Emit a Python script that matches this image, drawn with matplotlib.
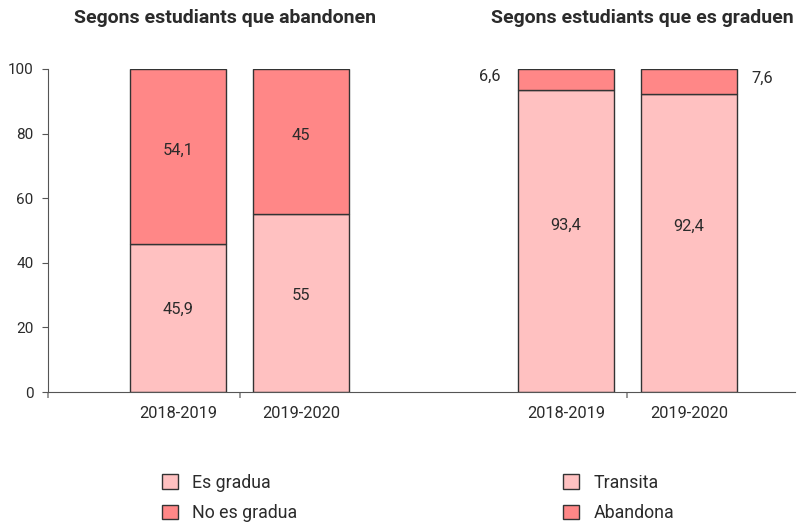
import matplotlib
matplotlib.use("Agg")
import matplotlib.pyplot as plt
from matplotlib.patches import Patch

plt.rcParams['font.family'] = ['Roboto', 'DejaVu Sans']

cursos = ["2018-2019", "2019-2020"]
es_gradua = [45.9, 55]
no_es_gradua = [54.1, 45]
transita = [93.4, 92.4]
abandona = [6.6, 7.6]
etiquetes_abandonen = ["45,9", "55"]
etiquetes_no_gradua = ["54,1", "45"]
etiquetes_transita = ["93,4", "92,4"]
etiquetes_abandona = ["6,6", "7,6"]

c_clar = "#ffc1c1"
c_fosc = "#ff8787"
c_vora = "#333333"
c_text = "#2b2b2b"

fig = plt.figure(figsize=(8, 5.24), dpi=100)
ax = fig.add_axes([48 / 800, 1 - 392 / 524, (795 - 48) / 800, (392 - 69) / 524])

x_esq = [0, 1]
x_dre = [3.154, 4.154]
amplada = 0.78

ax.bar(x_esq, es_gradua, amplada, color=c_clar, edgecolor=c_vora, linewidth=1)
ax.bar(x_esq, no_es_gradua, amplada, bottom=es_gradua, color=c_fosc, edgecolor=c_vora, linewidth=1)
ax.bar(x_dre, transita, amplada, color=c_clar, edgecolor=c_vora, linewidth=1)
ax.bar(x_dre, abandona, amplada, bottom=transita, color=c_fosc, edgecolor=c_vora, linewidth=1)

mida = 11.8
for i in range(2):
    ax.text(x_esq[i], es_gradua[i] / 2 + 2.5, etiquetes_abandonen[i], ha="center", va="center",
            fontsize=mida, color=c_text)
    ax.text(x_esq[i], es_gradua[i] + no_es_gradua[i] / 2 + 2, etiquetes_no_gradua[i], ha="center",
            va="center", fontsize=mida, color=c_text)
    ax.text(x_dre[i], transita[i] / 2 + 5, etiquetes_transita[i], ha="center", va="center",
            fontsize=mida, color=c_text)

ax.text(x_dre[0] - amplada / 2 - 0.14, transita[0] + abandona[0] / 2 + 1, etiquetes_abandona[0],
        ha="right", va="center", fontsize=mida, color=c_text)
ax.text(x_dre[1] + amplada / 2 + 0.12, transita[1] + abandona[1] / 2 + 1, etiquetes_abandona[1],
        ha="left", va="center", fontsize=mida, color=c_text)

ax.set_xlim(-1.057, 5.016)
ax.set_ylim(0, 100)
ax.set_yticks([0, 20, 40, 60, 80, 100])
ax.set_xticks(x_esq + x_dre)
ax.set_xticklabels(cursos + cursos)
ax.set_xticks([-1.057, 0.5, 3.654], minor=True)
ax.tick_params(axis="x", which="major", length=0, pad=10, labelsize=11.8, labelcolor=c_text)
ax.tick_params(axis="x", which="minor", length=4, color="#888888", width=1.2)
ax.tick_params(axis="y", length=4.5, pad=6, labelsize=11, labelcolor=c_text, color="#555555")
for s in ["top", "right"]:
    ax.spines[s].set_visible(False)
ax.spines["left"].set_color("#555555")
ax.spines["bottom"].set_color("#555555")

fig.text(225 / 800, 1 - 18 / 524, "Segons estudiants que abandonen", ha="center", va="center",
         fontsize=14, fontweight="bold", color=c_text)
fig.text(642 / 800, 1 - 18 / 524, "Segons estudiants que es graduen", ha="center", va="center",
         fontsize=14, fontweight="bold", color=c_text)

opts = dict(loc="upper left", frameon=False, fontsize=12.8, borderpad=0, borderaxespad=0,
            handlelength=0.9, handleheight=0.9, handletextpad=0.8, labelspacing=0.68,
            labelcolor=c_text)
fig.legend(handles=[Patch(facecolor=c_clar, edgecolor=c_vora, label="Es gradua"),
                    Patch(facecolor=c_fosc, edgecolor=c_vora, label="No es gradua")],
           bbox_to_anchor=(162 / 800, 1 - 474 / 524), **opts)
fig.legend(handles=[Patch(facecolor=c_clar, edgecolor=c_vora, label="Transita"),
                    Patch(facecolor=c_fosc, edgecolor=c_vora, label="Abandona")],
           bbox_to_anchor=(563 / 800, 1 - 474 / 524), **opts)

fig.savefig("out.png", dpi=100)
